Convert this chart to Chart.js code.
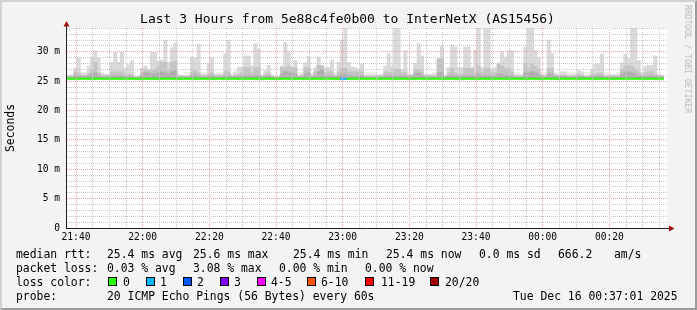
<!DOCTYPE html>
<html lang="en">
<head>
<meta charset="UTF-8">
<title>Last 3 Hours from 5e88c4fe0b00 to InterNetX (AS15456)</title>
<script src="https://cdn.jsdelivr.net/npm/chart.js@4.4.1/dist/chart.umd.min.js"></script>
<style>
  html, body { margin: 0; padding: 0; background: #f3f3f3; }
  #frame { position: relative; width: 697px; height: 310px; overflow: hidden;
           font-family: "DejaVu Sans Mono", monospace; color: #000; }
  #frame canvas { position: absolute; left: 0; top: 0; }
  #shade { position: absolute; left: 0; top: 0; width: 697px; height: 310px; box-sizing: border-box;
           border-top: 2px solid #d2d2d2; border-left: 2px solid #d2d2d2;
           border-bottom: 2px solid #9c9c9c; border-right: 2px solid #9c9c9c; pointer-events: none; }
  .t { position: absolute; white-space: pre; font-size: 11.4px; line-height: 14px; }
  .box { position: absolute; width: 7px; height: 7px; border: 1px solid #000; }
  #title { position: absolute; left: -1px; top: 12px; width: 697px; text-align: center;
           font-size: 13px; line-height: 14px; white-space: pre; }
  .rot { position: absolute; white-space: pre; transform: translate(-50%, -50%) rotate(-90deg); }
</style>
</head>
<body>
<div id="frame">
  <canvas id="ping" width="697" height="310"></canvas>
  <div id="title">Last 3 Hours from 5e88c4fe0b00 to InterNetX (AS15456)</div>
  <div class="rot" style="left:10px; top:128px; font-size:11.4px;">Seconds</div>
  <div class="rot" style="left:688px; top:59px; font-size:8.2px; color:#b8b8b8; transform: translate(-50%, -50%) rotate(90deg);">RRDTOOL / TOBI OETIKER</div>

  <div class="t" style="left:16px; top:247px;">median rtt:</div>
  <div class="t" style="left:107px; top:247px;">25.4 ms avg</div>
  <div class="t" style="left:193px; top:247px;">25.6 ms max</div>
  <div class="t" style="left:293px; top:247px;">25.4 ms min</div>
  <div class="t" style="left:386px; top:247px;">25.4 ms now</div>
  <div class="t" style="left:479px; top:247px;">0.0 ms sd</div>
  <div class="t" style="left:558px; top:247px;">666.2</div>
  <div class="t" style="left:614px; top:247px;">am/s</div>

  <div class="t" style="left:16px; top:261px;">packet loss:</div>
  <div class="t" style="left:107px; top:261px;">0.03 % avg</div>
  <div class="t" style="left:193px; top:261px;">3.08 % max</div>
  <div class="t" style="left:279px; top:261px;">0.00 % min</div>
  <div class="t" style="left:365px; top:261px;">0.00 % now</div>

  <div class="t" style="left:16px; top:275px;">loss color:</div>
  <div id="lossLegend"></div>

  <div class="t" style="left:16px; top:289px;">probe:</div>
  <div class="t" style="left:107px; top:289px;">20 ICMP Echo Pings (56 Bytes) every 60s</div>
  <div class="t" style="left:513px; top:289px;">Tue Dec 16 00:37:01 2025</div>
  <div id="shade"></div>
</div>
<script>
// minutes relative to 21:40, one step per probe round (60s)
var startMinute = -2.7;
var endMinute = 177.3;
var medianRtt = 25.4;

// smoke, upper edges in ms
var maxRtt = [
  26.0, 26.1, 27.2, 29.1, 26.4, 26.4, 27.6, 29.1, 30.2, 29.0,
  26.3, 26.2, 26.2, 28.2, 29.9, 28.2, 30.0, 27.2, 27.8, 28.5,
  25.8, 25.8, 27.2, 27.6, 27.0, 29.9, 29.9, 28.4, 28.6, 31.9,
  28.2, 30.7, 31.5, 26.1, 26.0, 26.0, 26.0, 29.1, 29.0, 31.3,
  26.2, 26.2, 28.1, 29.1, 26.2, 26.2, 26.2, 29.7, 31.9, 26.1,
  26.6, 27.4, 27.4, 29.3, 29.3, 27.6, 31.4, 30.5, 26.0, 26.8,
  27.7, 26.0, 25.8, 25.8, 27.6, 31.6, 30.0, 27.4, 28.5, 26.0,
  26.2, 28.1, 29.2, 26.2, 27.3, 29.1, 27.7, 27.3, 27.4, 28.6,
  26.2, 28.2, 32.0, 34.0, 28.2, 27.4, 27.3, 27.0, 27.9, 26.0,
  26.1, 26.1, 26.1, 26.1, 26.2, 27.6, 29.7, 27.6, 34.0, 34.0,
  27.0, 30.2, 26.2, 26.2, 28.1, 31.4, 29.3, 26.2, 26.2, 26.2,
  26.2, 28.8, 31.1, 26.0, 27.3, 31.2, 30.8, 27.3, 27.3, 30.8,
  30.8, 27.3, 30.3, 34.0, 27.3, 33.9, 34.0, 27.0, 27.3, 28.1,
  30.0, 29.1, 30.2, 30.2, 26.1, 26.1, 26.1, 30.8, 34.0, 34.0,
  30.2, 29.1, 26.2, 26.1, 32.0, 29.7, 26.4, 26.2, 26.6, 26.6,
  26.1, 26.1, 26.2, 26.8, 26.6, 26.0, 26.0, 27.0, 27.9, 27.9,
  29.6, 26.1, 26.1, 26.1, 26.1, 26.1, 28.1, 29.6, 28.9, 34.0,
  34.0, 28.5, 26.4, 27.5, 27.7, 27.7, 29.3, 26.2, 26.0
];
var midRtt = [
  25.8, 25.8, 26.6, 26.4, 26.0, 26.0, 26.3, 27.0, 28.2, 26.5,
  25.9, 25.9, 25.9, 26.6, 26.6, 26.6, 26.6, 26.2, 26.2, 26.1,
  25.7, 25.7, 26.4, 27.0, 26.8, 26.8, 27.0, 27.6, 28.2, 28.2,
  27.0, 28.2, 28.4, 25.8, 25.8, 25.8, 25.8, 26.6, 26.8, 26.4,
  25.9, 25.9, 26.2, 26.4, 25.9, 25.9, 25.9, 26.6, 26.6, 25.8,
  26.0, 26.2, 26.4, 27.3, 27.3, 26.4, 27.3, 27.3, 25.8, 26.2,
  26.4, 25.8, 25.7, 25.7, 27.3, 27.3, 27.6, 27.3, 27.3, 25.8,
  25.9, 27.3, 27.3, 25.9, 26.6, 27.7, 27.7, 26.4, 26.6, 26.6,
  25.9, 26.6, 27.2, 27.2, 26.6, 26.6, 26.6, 26.6, 26.6, 25.8,
  25.8, 25.8, 25.8, 25.8, 25.9, 26.6, 26.6, 26.4, 27.0, 27.0,
  26.4, 26.6, 25.9, 26.0, 27.0, 27.0, 26.6, 25.9, 25.9, 25.9,
  25.9, 28.8, 28.8, 25.8, 26.4, 27.2, 26.4, 26.2, 26.2, 27.2,
  27.2, 27.2, 26.4, 27.6, 26.4, 27.2, 27.2, 26.4, 26.4, 27.9,
  27.6, 27.2, 27.2, 26.6, 25.8, 25.8, 25.8, 28.0, 27.2, 28.0,
  27.5, 27.0, 25.9, 25.8, 27.2, 27.2, 26.0, 25.9, 26.0, 26.0,
  25.8, 25.8, 25.9, 26.2, 26.0, 25.8, 25.8, 26.2, 26.2, 26.4,
  26.4, 25.8, 25.8, 25.8, 25.8, 25.8, 27.0, 27.6, 27.6, 27.6,
  27.0, 26.6, 26.0, 26.4, 26.6, 26.6, 26.2, 25.9, 25.8
];
var lowRtt = [
  25.7, 25.7, 26.0, 25.9, 25.8, 25.8, 25.9, 26.2, 26.4, 26.0,
  25.7, 25.7, 25.7, 25.9, 26.0, 26.0, 25.9, 25.8, 25.8, 25.8,
  25.6, 25.6, 25.9, 26.4, 26.4, 26.2, 26.2, 26.4, 26.6, 26.4,
  26.2, 26.6, 26.8, 25.7, 25.7, 25.7, 25.7, 26.0, 26.2, 25.9,
  25.7, 25.7, 25.8, 25.9, 25.7, 25.7, 25.7, 25.9, 26.0, 25.7,
  25.8, 25.8, 25.8, 26.0, 26.0, 25.8, 26.0, 26.0, 25.7, 25.8,
  25.9, 25.7, 25.6, 25.6, 26.2, 26.6, 26.4, 26.4, 26.2, 25.7,
  25.7, 26.2, 26.4, 25.7, 26.0, 26.6, 27.0, 25.9, 25.9, 25.9,
  25.7, 25.9, 26.2, 26.2, 26.0, 25.9, 25.9, 25.9, 25.9, 25.7,
  25.7, 25.7, 25.7, 25.7, 25.7, 25.9, 25.9, 25.9, 26.0, 26.0,
  25.9, 25.9, 25.7, 25.8, 26.2, 26.4, 26.0, 25.7, 25.7, 25.7,
  25.7, 26.4, 26.4, 25.7, 25.9, 26.0, 25.9, 25.8, 25.8, 26.0,
  26.0, 26.0, 25.9, 26.2, 25.9, 26.0, 26.0, 25.9, 25.9, 26.2,
  26.2, 26.0, 26.0, 25.9, 25.7, 25.7, 25.7, 26.4, 26.4, 26.6,
  26.4, 26.2, 25.7, 25.7, 26.2, 26.2, 25.8, 25.7, 25.8, 25.8,
  25.7, 25.7, 25.7, 25.8, 25.8, 25.7, 25.7, 25.8, 25.8, 25.9,
  25.9, 25.7, 25.7, 25.7, 25.7, 25.7, 26.2, 26.4, 26.6, 26.4,
  26.2, 26.0, 25.8, 25.9, 25.9, 25.9, 25.8, 25.7, 25.7
];

// steps that lost pings (out of 20)
var lossSteps = [82, 83];
var lossCounts = [1, 1];

var lossLabels = ['0', '1', '2', '3', '4-5', '6-10', '11-19', '20/20'];
var lossUpper = [0, 1, 2, 3, 5, 10, 19, 20];
var lossColors = ['#26ff00', '#00b8ff', '#0059ff', '#7e00ff', '#ff00ff', '#ff5500', '#ff0000', '#a10000'];

var yTicks = [0,1,2,3,4,5,6,7,8,9,10,11,12,13,14,15,16,17,18,19,20,21,22,23,24,25,26,27,28,29,30,31,32,33,34];
var xTicks = [0,5,10,15,20,25,30,35,40,45,50,55,60,65,70,75,80,85,90,95,100,105,110,115,120,125,130,135,140,145,150,155,160,165,170,175];
var timeLabels = ['21:40', '22:00', '22:20', '22:40', '23:00', '23:20', '23:40', '00:00', '00:20'];

var majorGrid = '#f0a0a0';
var minorGrid = '#c8c8c8';
var tickFont = { family: 'DejaVu Sans Mono', size: 9.6 };

// loss legend row
var legendBoxX = [108, 146, 183, 220, 257, 307, 365, 430];
var legendTextX = [123, 160, 197, 234, 271, 321, 381, 445];
var lossLegend = document.getElementById('lossLegend');
lossLabels.forEach(function(label, i) {
  var b = document.createElement('div');
  b.className = 'box';
  b.style.left = legendBoxX[i] + 'px';
  b.style.top = '277px';
  b.style.background = lossColors[i];
  lossLegend.appendChild(b);
  var t = document.createElement('div');
  t.className = 't';
  t.style.left = legendTextX[i] + 'px';
  t.style.top = '275px';
  t.textContent = label;
  lossLegend.appendChild(t);
});

function lossColor(step) {
  var k = lossSteps.indexOf(step);
  var lost = k < 0 ? 0 : lossCounts[k];
  for (var i = 0; i < lossUpper.length; i++) {
    if (lost <= lossUpper[i]) return lossColors[i];
  }
  return lossColors[lossColors.length - 1];
}

function smoke(values) {
  return values.map(function(v, i) {
    return { x: startMinute + i + 0.5, y: [medianRtt, v] };
  });
}

var medianPoints = [];
for (var i = 0; i <= maxRtt.length; i++) {
  medianPoints.push({ x: startMinute + i, y: medianRtt });
}

var plotFrame = {
  id: 'plotFrame',
  beforeDraw: function(chart) {
    var a = chart.chartArea, ctx = chart.ctx;
    ctx.save();
    ctx.fillStyle = '#ffffff';
    ctx.fillRect(a.left, a.top, a.right - a.left, a.bottom - a.top);
    ctx.restore();
  },
  afterDraw: function(chart) {
    var a = chart.chartArea, ctx = chart.ctx;
    ctx.save();
    ctx.strokeStyle = '#202020';
    ctx.lineWidth = 1;
    ctx.beginPath();
    ctx.moveTo(a.left - 0.5, a.bottom + 0.5);
    ctx.lineTo(a.left - 0.5, a.top - 2);
    ctx.moveTo(a.left - 1, a.bottom + 0.5);
    ctx.lineTo(a.right + 2, a.bottom + 0.5);
    ctx.stroke();
    ctx.fillStyle = '#a01010';
    ctx.beginPath();
    ctx.moveTo(a.left - 0.5, a.top - 7);
    ctx.lineTo(a.left - 3.5, a.top - 1.5);
    ctx.lineTo(a.left + 2.5, a.top - 1.5);
    ctx.closePath();
    ctx.fill();
    ctx.beginPath();
    ctx.moveTo(a.right + 7.5, a.bottom + 0.5);
    ctx.lineTo(a.right + 2, a.bottom - 2.5);
    ctx.lineTo(a.right + 2, a.bottom + 3.5);
    ctx.closePath();
    ctx.fill();
    ctx.restore();
  }
};

var config = {
  data: {
    datasets: [
      { type: 'bar', label: 'smoke max', data: smoke(maxRtt), backgroundColor: '#dadada',
        grouped: false, barPercentage: 1, categoryPercentage: 1, borderWidth: 0, order: 3 },
      { type: 'bar', label: 'smoke mid', data: smoke(midRtt), backgroundColor: '#c4c4c4',
        grouped: false, barPercentage: 1, categoryPercentage: 1, borderWidth: 0, order: 2 },
      { type: 'bar', label: 'smoke low', data: smoke(lowRtt), backgroundColor: '#acacac',
        grouped: false, barPercentage: 1, categoryPercentage: 1, borderWidth: 0, order: 1 },
      { type: 'line', label: 'median rtt', data: medianPoints, borderWidth: 2, pointRadius: 0,
        borderColor: lossColors[0], order: 0,
        segment: { borderColor: function(ctx) { return lossColor(ctx.p0DataIndex); } } }
    ]
  },
  options: {
    responsive: false,
    animation: false,
    layout: { padding: { top: 28, right: 30, bottom: 0, left: 0 } },
    plugins: { legend: { display: false }, title: { display: false }, tooltip: { enabled: false } },
    scales: {
      x: {
        type: 'linear',
        offset: false,
        min: startMinute,
        max: endMinute,
        afterBuildTicks: function(s) { s.ticks = xTicks.map(function(v) { return { value: v }; }); },
        afterFit: function(s) { s.height = 82; },
        ticks: {
          autoSkip: false, maxRotation: 0, minRotation: 0, padding: 4, color: '#000', font: tickFont,
          callback: function(v) { return v % 20 === 0 ? timeLabels[v / 20] : ''; }
        },
        grid: {
          z: 1, drawTicks: false, offset: false,
          color: function(ctx) { return ctx.tick && ctx.tick.value % 20 === 0 ? majorGrid : minorGrid; }
        },
        border: { display: false, dash: [1, 1] }
      },
      y: {
        type: 'linear',
        min: 0,
        max: 34.05,
        afterBuildTicks: function(s) { s.ticks = yTicks.map(function(v) { return { value: v }; }); },
        afterFit: function(s) { s.width = 67; },
        ticks: {
          autoSkip: false, padding: 7, color: '#000', font: tickFont,
          callback: function(v) { return v % 5 === 0 ? (v === 0 ? '0' : v + ' m') : ''; }
        },
        grid: {
          z: 1, drawTicks: false,
          color: function(ctx) { return ctx.tick && ctx.tick.value % 5 === 0 ? majorGrid : minorGrid; }
        },
        border: { display: false, dash: [1, 1] }
      }
    }
  },
  plugins: [plotFrame]
};

window.myChart = new Chart(document.getElementById('ping').getContext('2d'), config);
</script>
</body>
</html>
